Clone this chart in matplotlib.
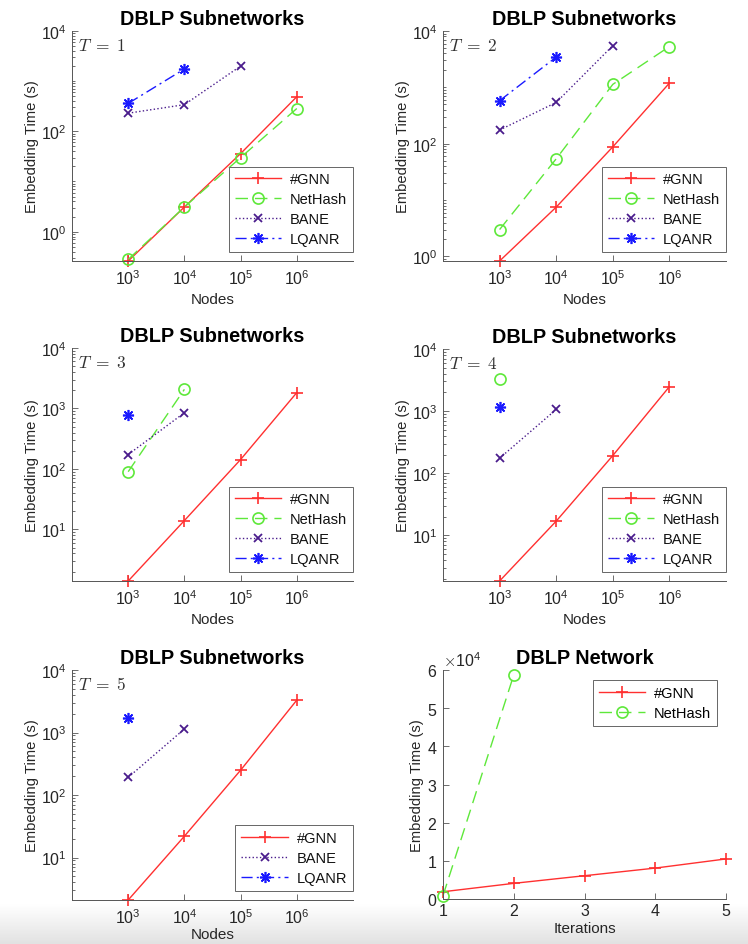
import matplotlib
matplotlib.use('Agg')
import matplotlib.pyplot as plt
import numpy as np
from matplotlib.ticker import LogLocator, NullLocator, FixedLocator, NullFormatter

# global style: Helvetica-like font, LaTeX-ish math, MATLAB-like ticks
plt.rcParams['font.family'] = ['Liberation Sans', 'DejaVu Sans']
plt.rcParams['mathtext.fontset'] = 'cm'
plt.rcParams['axes.unicode_minus'] = False
plt.rcParams['font.size'] = 11

# ---------------------- data ----------------------
nodes = [1e3, 1e4, 1e5, 1e6]

# T = 1
gnn_t1 = [0.26, 3.1, 36, 490]
nethash_t1 = [0.28, 3.1, 30, 285]
bane_t1 = [230, 340, 2000]
lqanr_t1 = [360, 1750]

# T = 2
gnn_t2 = [0.83, 7.5, 88, 1190]
nethash_t2 = [3.0, 54, 1130, 5300]
bane_t2 = [175, 540, 5500]
lqanr_t2 = [580, 3450]

# T = 3
gnn_t3 = [1.4, 14, 143, 1830]
nethash_t3 = [90, 2070]
bane_t3 = [173, 850]
lqanr_t3 = [775]

# T = 4
gnn_t4 = [1.85, 17, 193, 2480]
nethash_t4 = [3300]
bane_t4 = [175, 1065]
lqanr_t4 = [1150]

# T = 5
gnn_t5 = [2.1, 22, 250, 3300]
bane_t5 = [192, 1140]
lqanr_t5 = [1690]

# full DBLP network vs iterations
iterations = [1, 2, 3, 4, 5]
gnn_full = [1900, 4100, 6100, 8100, 10500]
nethash_full = [870, 58700]

# series styles
styles = {
    '#GNN': dict(color='#ff3030', linestyle='-', marker='+', markersize=8, mew=1.2),
    'NetHash': dict(color='#5ee83a', linestyle=(0, (9, 5)), marker='o', markersize=8,
                    mfc='none', mew=1.2),
    'BANE': dict(color='#4a1c8c', linestyle=':', marker='x', markersize=6, mew=1.3),
    'LQANR': dict(color='#1a1aff', linestyle=(0, (8, 3, 1.5, 3)), marker=(8, 2, 0),
                  markersize=8, mew=1.2),
}

spine_color = '#555555'
text_color = '#262626'
legend_kw = dict(fontsize=10.5, numpoints=1, handlelength=3.2, labelspacing=0.4,
                 fancybox=False, framealpha=1, edgecolor='#666666', borderpad=0.4,
                 handletextpad=0.6, borderaxespad=0)


def style_axes(ax):
    for side in ['top', 'right']:
        ax.spines[side].set_visible(False)
    for side in ['left', 'bottom']:
        ax.spines[side].set_color(spine_color)
        ax.spines[side].set_linewidth(0.7)
    ax.tick_params(which='both', direction='in', color=spine_color, labelcolor=text_color,
                   width=0.6)
    ax.tick_params(which='major', length=4, labelsize=11.5)
    ax.tick_params(which='minor', length=2)
    ax.tick_params(axis='y', pad=4)


def draw_subnetwork(ax, T, series, yticks, xlabelpad=4):
    """series: list of (label, values) pairs, values start at 10^3 nodes"""
    all_vals = []
    for label, vals in series:
        ax.plot(nodes[:len(vals)], vals, label=label, linewidth=1.0, clip_on=False,
                **styles[label])
        all_vals += list(vals)
    ax.set_xscale('log')
    ax.set_yscale('log')
    ax.set_xlim(1e2, 1e7)
    ax.set_ylim(min(all_vals), 1e4)
    ax.set_xticks(nodes)
    ax.xaxis.set_minor_locator(NullLocator())
    ax.yaxis.set_major_locator(FixedLocator(yticks))
    ax.yaxis.set_minor_locator(LogLocator(base=10, subs=np.arange(1, 10), numticks=100))
    ax.yaxis.set_minor_formatter(NullFormatter())
    style_axes(ax)
    ax.tick_params(axis='x', pad=5)
    ax.set_title('DBLP Subnetworks', fontsize=14.3, fontweight='bold', pad=5)
    ax.set_xlabel('Nodes', fontsize=11, color=text_color, labelpad=xlabelpad)
    ax.set_ylabel('Embedding Time (s)', fontsize=10.6, color=text_color, labelpad=1)
    ax.text(0.02, 0.94, r'$T\;=\;%d$' % T, transform=ax.transAxes, fontsize=12.5,
            color='#333333', va='center', ha='left')
    leg = ax.legend(loc='lower right', bbox_to_anchor=(1.0, 0.04), **legend_kw)
    leg.get_frame().set_linewidth(0.7)
    for t in leg.get_texts():
        t.set_color('#111111')


# ---------------------- figure layout ----------------------
fig = plt.figure(figsize=(7.48, 9.45), dpi=100)
W, H = 748.0, 945.0


def add_ax(left, right, top, bottom):
    return fig.add_axes([left / W, 1 - bottom / H, (right - left) / W, (bottom - top) / H])


ax1 = add_ax(72, 353, 32, 262)
ax2 = add_ax(443, 726, 32, 262)
ax3 = add_ax(72, 353, 349, 582)
ax4 = add_ax(443, 726, 350, 582)
ax5 = add_ax(72, 353, 671, 901)
ax6 = add_ax(443, 726, 671, 900)

draw_subnetwork(ax1, 1, [('#GNN', gnn_t1), ('NetHash', nethash_t1),
                         ('BANE', bane_t1), ('LQANR', lqanr_t1)], [1, 1e2, 1e4])
draw_subnetwork(ax2, 2, [('#GNN', gnn_t2), ('NetHash', nethash_t2),
                         ('BANE', bane_t2), ('LQANR', lqanr_t2)], [1, 1e2, 1e4])
draw_subnetwork(ax3, 3, [('#GNN', gnn_t3), ('NetHash', nethash_t3),
                         ('BANE', bane_t3), ('LQANR', lqanr_t3)], [1e1, 1e2, 1e3, 1e4])
draw_subnetwork(ax4, 4, [('#GNN', gnn_t4), ('NetHash', nethash_t4),
                         ('BANE', bane_t4), ('LQANR', lqanr_t4)], [1e1, 1e2, 1e3, 1e4])
draw_subnetwork(ax5, 5, [('#GNN', gnn_t5), ('BANE', bane_t5),
                         ('LQANR', lqanr_t5)], [1e1, 1e2, 1e3, 1e4], xlabelpad=1)

# full network panel (linear axes)
ax6.plot(iterations, gnn_full, label='#GNN', linewidth=1.0, clip_on=False, **styles['#GNN'])
ax6.plot(iterations[:len(nethash_full)], nethash_full, label='NetHash', linewidth=1.0,
         clip_on=False, **styles['NetHash'])
ax6.set_xlim(1, 5)
ax6.set_ylim(0, 6e4)
ax6.set_xticks(iterations)
ax6.set_yticks(np.arange(0, 7e4, 1e4))
ax6.ticklabel_format(axis='y', style='sci', scilimits=(0, 0), useMathText=True)
ax6.yaxis.get_offset_text().set_fontsize(11.5)
ax6.yaxis.get_offset_text().set_color(text_color)
style_axes(ax6)
ax6.tick_params(axis='x', pad=3)
ax6.set_title('DBLP Network', fontsize=14.3, fontweight='bold', pad=5)
ax6.set_xlabel('Iterations', fontsize=11, color=text_color, labelpad=2)
ax6.set_ylabel('Embedding Time (s)', fontsize=10.6, color=text_color, labelpad=2)
leg6 = ax6.legend(loc='upper right', bbox_to_anchor=(1 - 9 / 283, 1 - 10 / 229), **legend_kw)
leg6.get_frame().set_linewidth(0.7)

# light grey shadow band at the bottom of the screenshot
band = fig.add_axes([0, 0, 1, 40 / H], zorder=-10)
grad = np.linspace(0, 1, 64).reshape(-1, 1)
band.imshow(grad, aspect='auto', cmap=matplotlib.colors.LinearSegmentedColormap.from_list(
    'band', ['#e2e2e2', '#ffffff']), origin='lower', extent=[0, 1, 0, 1])
band.axis('off')

fig.savefig('out.png', dpi=100)
